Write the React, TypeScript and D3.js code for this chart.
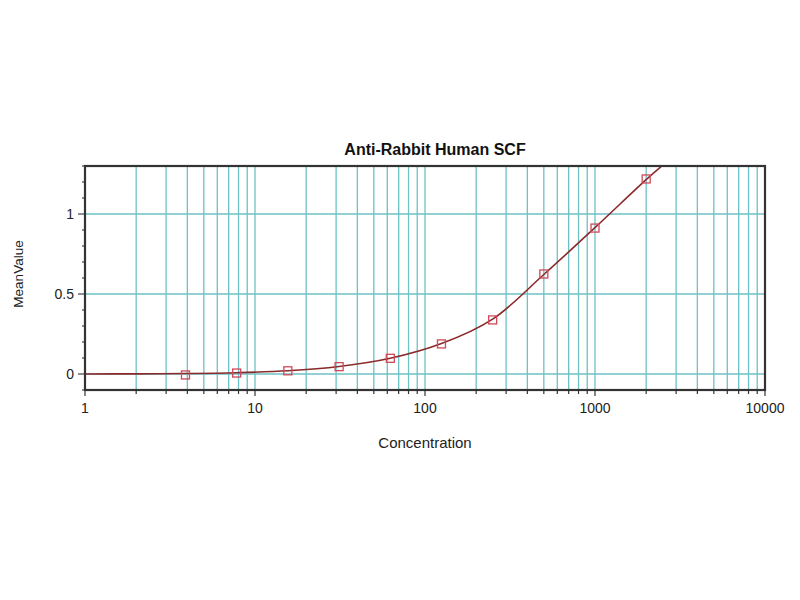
import { useEffect, useRef } from "react";
import * as d3 from "d3";

// measured standards (two-fold dilution series)
const concentrations = [3.9, 7.8, 15.6, 31.25, 62.5, 125, 250, 500, 1000, 2000];
const meanValues = [-0.006, 0.006, 0.02, 0.046, 0.098, 0.188, 0.338, 0.625, 0.912, 1.219];

// fitted curve
const fitConc = [1, 2, 3.9, 7.8, 15.6, 31.25, 62.5, 125, 250, 500, 1000, 2000, 2600];
const fitValue = [0.0, 0.001, 0.003, 0.008, 0.02, 0.047, 0.098, 0.19, 0.343, 0.622, 0.915, 1.215, 1.32];

const xTickValues = [1, 10, 100, 1000, 10000];
const yTickValues = [0, 0.5, 1];

const title = "Anti-Rabbit Human SCF";
const xTitle = "Concentration";
const yTitle = "MeanValue";

export default function App() {
  const svgRef = useRef<SVGSVGElement>(null);

  useEffect(() => {
    if (!svgRef.current) return;
    const svg = d3.select(svgRef.current);
    svg.selectAll("*").remove();

    const margin = { top: 166, right: 35, bottom: 210, left: 85 };
    const width = 800, height = 600;
    const innerW = width - margin.left - margin.right;
    const innerH = height - margin.top - margin.bottom;
    const font = "'Liberation Sans', Arial, sans-serif";
    const gridColor = "#6cc2c6";
    const frameColor = "#333";

    const x = d3.scaleLog().domain([1, 10000]).range([0, innerW]);
    const y = d3.scaleLinear().domain([-0.1, 1.3]).range([innerH, 0]);

    svg.append("rect").attr("width", width).attr("height", height).attr("fill", "#fff");

    const g = svg.append("g").attr("transform", `translate(${margin.left},${margin.top})`);

    svg.append("defs").append("clipPath").attr("id", "plotClip")
      .append("rect").attr("width", innerW).attr("height", innerH);

    // vertical grid: every 1..9 in each decade
    const minorX = x.ticks().filter(v => v > 1 && v < 10000);
    g.append("g")
      .selectAll("line")
      .data(minorX)
      .join("line")
      .attr("x1", d => x(d)).attr("x2", d => x(d))
      .attr("y1", 0).attr("y2", innerH)
      .attr("stroke", gridColor)
      .attr("stroke-width", 1.3);

    // horizontal grid
    g.append("g")
      .selectAll("line")
      .data(yTickValues)
      .join("line")
      .attr("x1", 0).attr("x2", innerW)
      .attr("y1", d => y(d)).attr("y2", d => y(d))
      .attr("stroke", gridColor)
      .attr("stroke-width", 1.3);

    // x axis ticks
    const xAxis = g.append("g").attr("transform", `translate(0,${innerH})`);
    xAxis.selectAll("line.minor")
      .data(x.ticks())
      .join("line")
      .attr("x1", d => x(d)).attr("x2", d => x(d))
      .attr("y1", 0)
      .attr("y2", d => (xTickValues.includes(d) ? 6 : 4))
      .attr("stroke", frameColor)
      .attr("stroke-width", 1.2);
    xAxis.selectAll("text")
      .data(xTickValues)
      .join("text")
      .attr("x", d => x(d))
      .attr("y", 23)
      .attr("text-anchor", "middle")
      .attr("font-family", font)
      .attr("font-size", 14)
      .attr("fill", "#222")
      .text(d => String(d));

    // y axis ticks
    const yMinor = d3.range(-1, 14).map(i => i / 10);
    const yAxis = g.append("g");
    yAxis.selectAll("line")
      .data(yMinor)
      .join("line")
      .attr("x1", 0)
      .attr("x2", d => (yTickValues.some(t => Math.abs(t - d) < 1e-9) ? -7 : -3))
      .attr("y1", d => y(d)).attr("y2", d => y(d))
      .attr("stroke", frameColor)
      .attr("stroke-width", 1.1);
    yAxis.selectAll("text")
      .data(yTickValues)
      .join("text")
      .attr("x", -11)
      .attr("y", d => y(d))
      .attr("dy", "0.36em")
      .attr("text-anchor", "end")
      .attr("font-family", font)
      .attr("font-size", 14)
      .attr("fill", "#222")
      .text(d => String(d));

    // fitted curve
    const line = d3.line<number>()
      .x((_, i) => x(fitConc[i]))
      .y(d => y(d))
      .curve(d3.curveCatmullRom.alpha(0.5));
    g.append("path")
      .attr("clip-path", "url(#plotClip)")
      .attr("d", line(fitValue))
      .attr("fill", "none")
      .attr("stroke", "#8a2a2a")
      .attr("stroke-width", 1.6);

    // standards as open squares
    const s = 8;
    g.append("g")
      .selectAll("rect")
      .data(meanValues)
      .join("rect")
      .attr("x", (_, i) => x(concentrations[i]) - s / 2)
      .attr("y", d => y(d) - s / 2)
      .attr("width", s)
      .attr("height", s)
      .attr("fill", "none")
      .attr("stroke", "#d0485a")
      .attr("stroke-width", 1.3);

    // frame
    g.append("rect")
      .attr("width", innerW)
      .attr("height", innerH)
      .attr("fill", "none")
      .attr("stroke", frameColor)
      .attr("stroke-width", 2.2);

    // titles
    svg.append("text")
      .attr("x", 435)
      .attr("y", 155)
      .attr("text-anchor", "middle")
      .attr("font-family", font)
      .attr("font-weight", "bold")
      .attr("font-size", 16)
      .attr("fill", "#111")
      .text(title);

    svg.append("text")
      .attr("x", margin.left + innerW / 2)
      .attr("y", 448)
      .attr("text-anchor", "middle")
      .attr("font-family", font)
      .attr("font-size", 15)
      .attr("fill", "#222")
      .text(xTitle);

    svg.append("text")
      .attr("transform", `translate(23,274) rotate(-90)`)
      .attr("text-anchor", "middle")
      .attr("font-family", font)
      .attr("font-size", 13.5)
      .attr("fill", "#222")
      .text(yTitle);
  }, []);

  return (
    <svg
      ref={svgRef}
      width={800}
      height={600}
      style={{ position: "absolute", left: 0, top: 0 }}
    />
  );
}
